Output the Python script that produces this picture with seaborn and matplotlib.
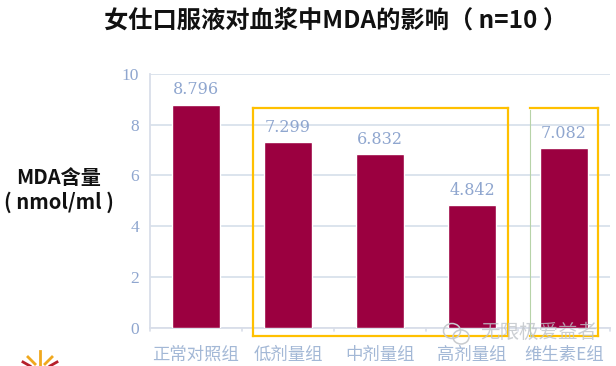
import matplotlib
matplotlib.use("Agg")
import matplotlib.pyplot as plt
import seaborn as sns
import pandas as pd
from matplotlib.patches import Ellipse
from matplotlib.lines import Line2D

title = "女仕口服液对血浆中MDA的影响（ n=10 ）"
ylabel_lines = ["MDA含量", "( nmol/ml )"]
groups = ["正常对照组", "低剂量组", "中剂量组", "高剂量组", "维生素E组"]
values = [8.796, 7.299, 6.832, 4.842, 7.082]
labels = ["8.796", "7.299", "6.832", "4.842", "7.082"]
yticks = [0, 2, 4, 6, 8, 10]
watermark = "无限极爱益者"

sns.set_theme(style="white")
plt.rcParams['font.family'] = ['Noto Sans CJK SC', 'DejaVu Sans']
W, H = 616, 366
fig = plt.figure(figsize=(W/100, H/100), dpi=100)
def fx(p): return p/W
def fy(p): return 1-p/H
left, right, top, bottom = 150, 610, 74, 327.5
ax = fig.add_axes([fx(left), fy(bottom), (right-left)/W, (bottom-top)/H])
df = pd.DataFrame({"group": groups, "value": values})
sns.barplot(data=df, x="group", y="value", color="#9B0040", width=0.525, saturation=1, ax=ax, zorder=3)
ax.set_xlim(-0.5, 4.5)
ax.set_ylim(0, 10)
ax.set_xlabel(""); ax.set_ylabel("")
ax.set_yticks(yticks)
ax.grid(axis="y", color="#D5DFEA", lw=1.2, zorder=0)
ax.set_axisbelow(True)
for s in ["top", "right"]:
    ax.spines[s].set_visible(False)
for s in ["left", "bottom"]:
    ax.spines[s].set_color("#D9DEE9"); ax.spines[s].set_linewidth(1.3)
ax.set_yticklabels([str(t) for t in yticks], fontsize=12.5, color="#8FA6CF", family="Liberation Serif")
ax.tick_params(axis="y", length=5, color="#D9DEE9", pad=3)
ax.tick_params(axis="x", length=0, pad=13)
ax.set_xticks(range(5))
ax.set_xticklabels(groups, fontsize=12.5, color="#A3B8D6")
for t in [i+0.5 for i in range(-1, 5)]:
    ax.plot([t, t], [0, -0.13], color="#D9DEE9", lw=1.2, clip_on=False)
for i, (v, l) in enumerate(zip(values, labels)):
    ax.annotate(l, (i, v), xytext=(0, 4.5), textcoords="offset points", ha="center", va="bottom",
                fontsize=11.5, color="#8FA6CF", family="DejaVu Serif")

fig.text(fx(336), fy(21), title, ha="center", va="center", fontsize=17.5, fontweight="bold", color="#111111")
fig.text(fx(59), fy(178), ylabel_lines[0], ha="center", va="center", fontsize=14.5, fontweight="bold", color="#111111")
fig.text(fx(59), fy(202), ylabel_lines[1], ha="center", va="center", fontsize=14.5, fontweight="bold", color="#111111")

def seg(x0, y0, x1, y1, c, lw):
    fig.add_artist(Line2D([fx(x0), fx(x1)], [fy(y0), fy(y1)], transform=fig.transFigure, color=c, lw=lw, zorder=5,
                          solid_capstyle="projecting"))
YEL = "#FFC000"
for a in [(253, 108, 508, 108), (508, 108, 508, 336), (253, 336, 508, 336), (253, 108, 253, 336),
          (530, 108, 598, 108), (598, 108, 598, 336), (530, 336, 598, 336)]:
    seg(*a, YEL, 1.6)
seg(530, 110, 530, 336, "#B7D3A8", 0.8)

fig.text(fx(539), fy(332), watermark, ha="center", va="center", fontsize=14, color="#BFC3C8", alpha=0.8, zorder=6)
for cx, cy, w, h in [(452, 331, 17, 15), (461, 337, 16, 14)]:
    fig.add_artist(Ellipse((fx(cx), fy(cy)), w/W, h/H, transform=fig.transFigure, fill=False, ec="#C8CBCF", lw=1.1, zorder=6))

# logo rays
for x0, y0, x1, y1, c in [(40, 366, 40, 351, "#F0A81E"), (35, 364, 28, 357, "#F0A81E"), (45, 364, 52, 357, "#F0A81E"),
                          (30, 366, 23, 362, "#B5202A"), (50, 366, 57, 362, "#B5202A")]:
    seg(x0, y0, x1, y1, c, 2)

fig.savefig("out.png", dpi=100)
